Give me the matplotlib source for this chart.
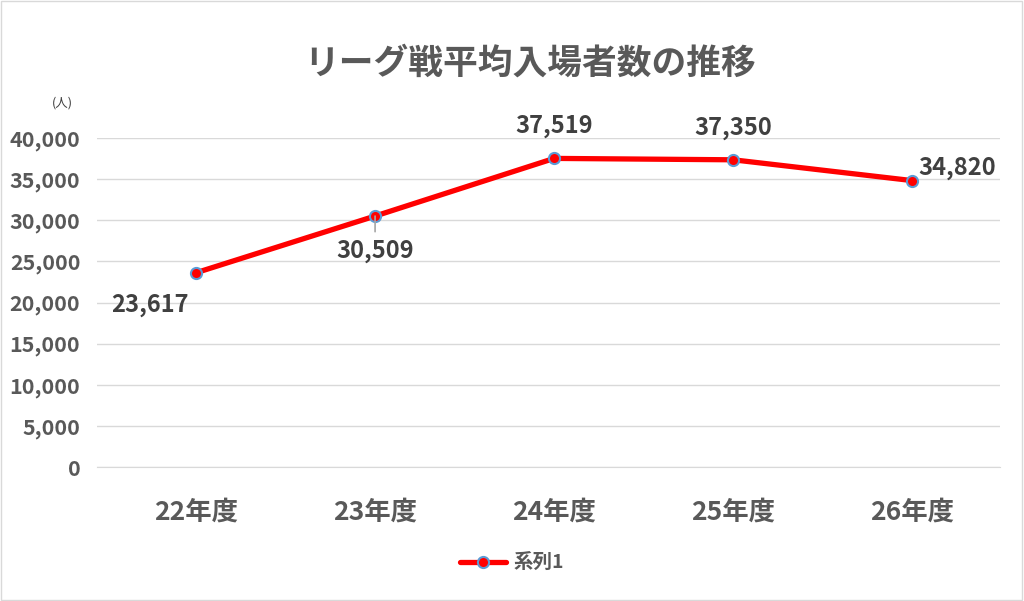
import matplotlib
matplotlib.use("Agg")
import matplotlib.pyplot as plt
from matplotlib.patches import Rectangle

plt.rcParams['font.family'] = ['Noto Sans CJK JP', 'DejaVu Sans']

categories = ["22年度", "23年度", "24年度", "25年度", "26年度"]
values = [23617, 30509, 37519, 37350, 34820]
yticks = [0, 5000, 10000, 15000, 20000, 25000, 30000, 35000, 40000]
title = "リーグ戦平均入場者数の推移"
series_name = "系列1"
unit = "(人)"

fig = plt.figure(figsize=(10.24, 6.01), dpi=100)
ax = fig.add_axes([97/1024, 1-467/601, (1000-97)/1024, (467-138)/601])

x = list(range(len(categories)))
ax.plot(x, values, color="#FF0000", lw=3.8, marker="o", markersize=8,
        markerfacecolor="#FF0000", markeredgecolor="#5B9BD5", markeredgewidth=1.5,
        label=series_name, zorder=3, solid_capstyle="round")

ax.set_xlim(-0.553, 4.49)
ax.set_ylim(0, 40000)
ax.set_yticks(yticks)
ax.set_yticklabels([f"{v:,}" for v in yticks])
ax.set_xticks(x)
ax.set_xticklabels(categories)
ax.grid(axis="y", color="#D9D9D9", lw=1)
ax.set_axisbelow(True)
for s in ["top", "right", "left"]:
    ax.spines[s].set_visible(False)
ax.spines["bottom"].set_color("#D9D9D9")
ax.tick_params(axis="both", length=0)
ax.tick_params(axis="y", labelsize=15.5, labelcolor="#595959", pad=12)
ax.tick_params(axis="x", labelsize=19, labelcolor="#595959", pad=23)
for lab in ax.get_yticklabels() + ax.get_xticklabels():
    lab.set_fontweight("bold")

# data labels
offsets = [(-33, -23), (0, -25), (0, 23), (0, 23), (32, 9)]
for i, (v, off) in enumerate(zip(values, offsets)):
    ax.annotate(f"{v:,}", (i, v), xytext=off, textcoords="offset points",
                ha="center", va="center", fontsize=17, fontweight="bold",
                color="#404040")
# leader line for 2nd label
ax.annotate("", (1, values[1]), xytext=(1, values[1] - 1900),
            arrowprops=dict(arrowstyle="-", color="#A6A6A6", lw=1.2,
                            shrinkA=0, shrinkB=0))

fig.text(530/1024, 1-63/601, title, ha="center", va="center", fontsize=25,
         fontweight="bold", color="#595959")
fig.text(62/1024, 1-103/601, unit, ha="center", va="center", fontsize=9,
         color="#404040")

leg = fig.legend(loc="center", bbox_to_anchor=(512/1024, 1-563/601), frameon=False,
                 fontsize=14, handlelength=2.4, handletextpad=0.4)
for t in leg.get_texts():
    t.set_color("#595959")
    t.set_fontweight("bold")

fig.patches.append(Rectangle((0.001, 0.001), 0.997, 0.997, transform=fig.transFigure,
                             fill=False, edgecolor="#D9D9D9", lw=1))

fig.savefig("out.png", dpi=100, facecolor="white")
